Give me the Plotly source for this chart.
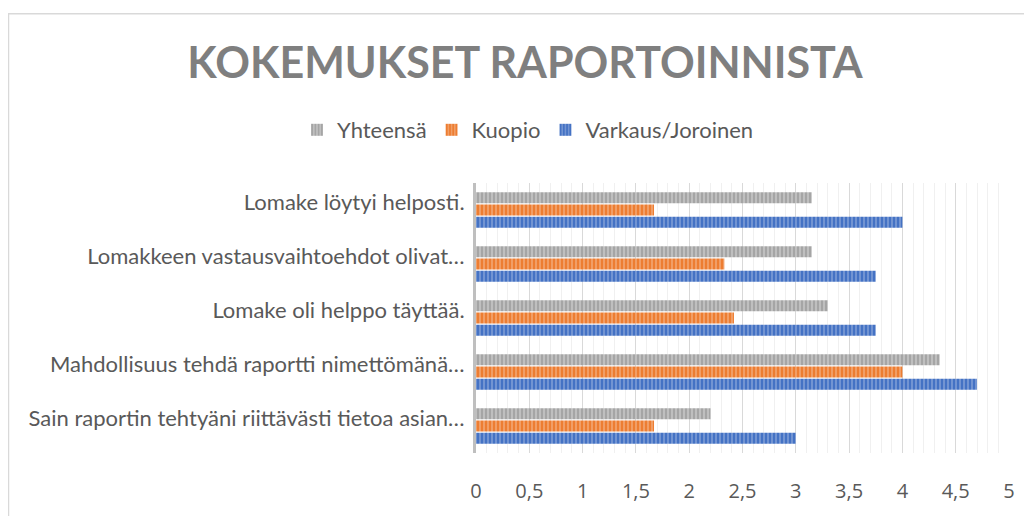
import plotly.graph_objects as go

categories = [
    "Sain raportin tehtyäni riittävästi tietoa asian…",
    "Mahdollisuus tehdä raportti nimettömänä…",
    "Lomake oli helppo täyttää.",
    "Lomakkeen vastausvaihtoehdot olivat…",
    "Lomake löytyi helposti.",
]
varkaus = [3.0, 4.7, 3.75, 3.75, 4.0]
kuopio = [1.67, 4.0, 2.42, 2.33, 1.67]
yhteensa = [2.2, 4.35, 3.3, 3.15, 3.15]
x_ticks = [0, 0.5, 1, 1.5, 2, 2.5, 3, 3.5, 4, 4.5, 5]
x_tick_labels = ["0", "0,5", "1", "1,5", "2", "2,5", "3", "3,5", "4", "4,5", "5"]

series = [
    ("Varkaus/Joroinen", varkaus, "#4472c4", "#86a3d8"),
    ("Kuopio", kuopio, "#ed7d31", "#f3ac7c"),
    ("Yhteensä", yhteensa, "#a5a5a5", "#cbcbcb"),
]

fig = go.Figure()
for name, vals, col, light in series:
    fig.add_trace(go.Bar(
        y=categories, x=vals, name=name, orientation="h",
        marker=dict(color=col, line=dict(width=0),
                    pattern=dict(shape="|", fgcolor=col, bgcolor=light,
                                 size=4, solidity=0.65, fillmode="replace")),
    ))

# page renders with an 8px body margin, so figure coords = screen coords - 8
W, H = 1024, 508
L, R, T, B = 468, 23, 175, 57
pw, ph = W - L - R, H - T - B

def px_x(p):
    return (p - L) / pw

def px_y(p):
    return (H - B - p) / ph

fig.update_layout(
    width=W, height=H,
    margin=dict(l=L, r=R, t=T, b=B),
    paper_bgcolor="white", plot_bgcolor="white",
    barmode="group", bargap=0.32, bargroupgap=0.12,
    font=dict(family="Lato", color="#595959"),
    title=dict(text="<b>KOKEMUKSET RAPORTOINNISTA</b>",
               font=dict(family="Lato", size=43, color="#7f7f7f"),
               x=517 / W, xanchor="center", xref="container",
               y=1 - 55 / H, yanchor="middle", yref="container"),
    legend=dict(orientation="h", traceorder="reversed",
                x=520 / W, xanchor="center", xref="container",
                y=1 - 122 / H, yanchor="middle", yref="container",
                font=dict(family="Lato", size=22, color="#595959"),
                itemwidth=30),
    xaxis=dict(range=[0, 5], tickvals=x_ticks, ticktext=x_tick_labels,
               showgrid=True, gridcolor="#d9d9d9", gridwidth=1,
               minor=dict(dtick=0.1, showgrid=True, gridcolor="#f0f0f0", gridwidth=1),
               zeroline=False, showline=False, ticks="",
               ticklabelstandoff=24,
               tickfont=dict(family="Open Sans", size=20, color="#595959")),
    yaxis=dict(showline=True, linecolor="#bfbfbf", linewidth=3,
               ticks="", ticklabelstandoff=4, ticklabelshift=-8,
               tickfont=dict(family="Lato", size=22, color="#595959")),
    showlegend=True,
    shapes=[dict(type="rect", xref="paper", yref="paper",
                 x0=px_x(0.5), x1=px_x(1100), y0=px_y(600), y1=px_y(2),
                 line=dict(color="#d9d9d9", width=1.5), layer="below")],
)

fig.write_html("out.html")
